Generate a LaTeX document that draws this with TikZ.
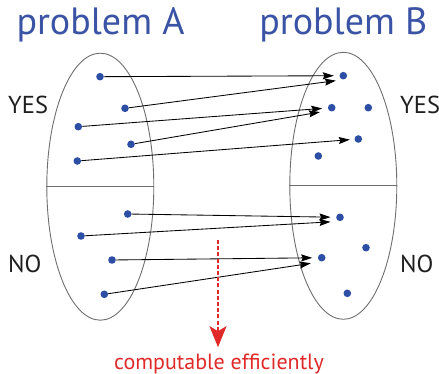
\documentclass[tikz,border=0pt]{standalone}
\usepackage{fontspec}
\setmainfont{PT Sans}
\usetikzlibrary{arrows.meta,shapes.geometric}
\definecolor{dotblue}{HTML}{2D4EA5}
\definecolor{titleblue}{HTML}{3A53A5}
\definecolor{alertred}{HTML}{E02A2A}
\definecolor{rimgray}{HTML}{6E6E6E}
\begin{document}
\begin{tikzpicture}[x=1pt,y=-1pt,
  setbox/.style={draw=rimgray,line width=0.9pt,ellipse,inner sep=0pt,
    minimum width=107pt,minimum height=267pt},
  divider/.style={draw=rimgray,line width=0.9pt},
  elem/.style={circle,fill=dotblue,inner sep=0pt,minimum size=7.6pt},
  maparrow/.style={-{Stealth[length=11pt,width=7pt,inset=1.5pt]},
    line width=0.85pt,shorten >=5.5pt},
  title/.style={text=titleblue,font=\fontsize{38}{38}\selectfont,anchor=base},
  side/.style={font=\fontsize{24.5}{24.5}\selectfont,anchor=base west,
    text=black!88,inner sep=0pt},
]
\useasboundingbox (0,0) rectangle (439,374);

% the two problems as sets of instances
\node[setbox] (SA) at (100.3,186.7) {};
\node[setbox] (SB) at (343.3,185.8) {};
\draw[divider] (SA.west) -- (SA.east);
\draw[divider] (SB.west) -- (SB.east);

\node[title] (TA) at (100.5,35) {problem A};
\node[title] (TB) at (343.3,35) {problem B};

\node[side] (YA) at (8,113.3) {YES};
\node[side] (NA) at (8,272.7) {NO};
\node[side] (YB) at (400,113.3) {YES};
\node[side] (NB) at (400,272.7) {NO};

% instances of problem A
\node[elem] (A1) at (100,76.7) {};
\node[elem] (A2) at (125,108.3) {};
\node[elem] (A3) at (78.3,126.7) {};
\node[elem] (A4) at (131,144.3) {};
\node[elem] (A5) at (77.3,161) {};
\node[elem] (A6) at (127.7,214) {};
\node[elem] (A7) at (81,236) {};
\node[elem] (A8) at (112,260) {};
\node[elem] (A9) at (104.3,294.3) {};

% instances of problem B
\node[elem] (B1) at (343.3,75.7) {};
\node[elem] (B2) at (331.7,107.7) {};
\node[elem] (B3) at (368.3,107.7) {};
\node[elem] (B4) at (358.3,139) {};
\node[elem] (B5) at (318.3,156) {};
\node[elem] (B6) at (340,217.3) {};
\node[elem] (B7) at (366,247.7) {};
\node[elem] (B8) at (321.7,257.7) {};
\node[elem] (B9) at (347.3,293.3) {};

% the reduction
\draw[maparrow] (A1) -- (B1);
\draw[maparrow,shorten >=7.5pt] (A2) -- (B1.south);
\draw[maparrow] (A3) -- (B2);
\draw[maparrow,shorten >=9pt] (A4) -- (B2.south west);
\draw[maparrow,shorten >=4.5pt] (A5) -- (B4);
\draw[maparrow] (A6) -- (B6);
\draw[maparrow,shorten >=9.5pt] (A7) -- (B6.south);
\draw[maparrow] (A8) -- (B8);
\draw[maparrow,shorten >=11pt] (A9) -- (B8.south);

% the reduction is cheap
\coordinate (R0) at (218,240);
\node[text=alertred,font=\fontsize{22}{22}\selectfont,anchor=base] (CE)
  at (219,369.3) {computable efficiently};
\draw[alertred,line width=2.1pt,dash pattern=on 4pt off 2.2pt,shorten >=3pt,
  -{Stealth[length=21pt,width=17pt,inset=5pt]}]
  (R0) -- (CE.north -| R0) ;
\end{tikzpicture}
\end{document}
